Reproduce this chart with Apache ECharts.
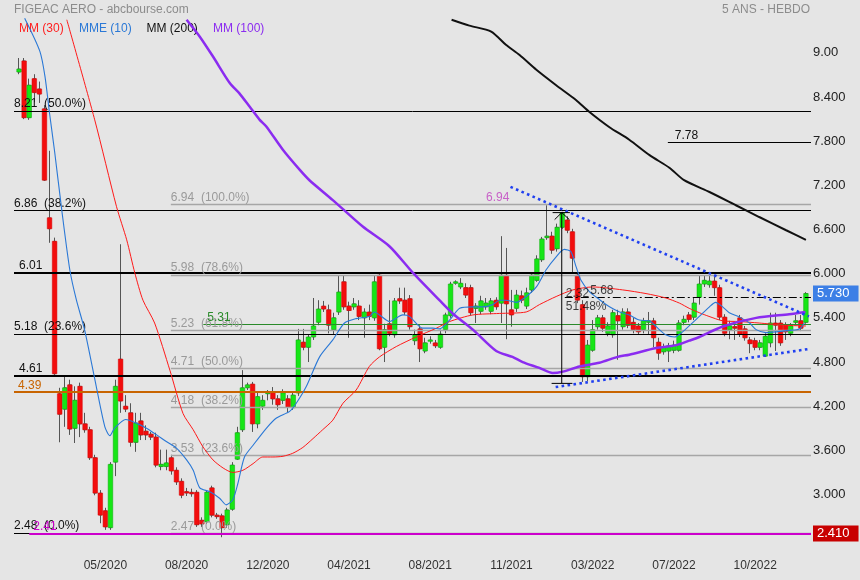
<!DOCTYPE html>
<html><head><meta charset="utf-8">
<script src="https://cdn.jsdelivr.net/npm/echarts@6/dist/echarts.min.js"></script>
<style>html,body{margin:0;padding:0;background:#e5e5e5}#c{width:860px;height:580px}</style>
</head><body><div id="c"></div>
<script>
// ---------- DATA (weekly candles, first week 2020-01-13) ----------
const firstWeek = '2020-01-13';
const opens = [8.74,8.89,8.12,8.65,8.51,8.24,6.76,6.44,4.37,4.16,
 4.49,3.90,4.47,3.96,3.88,3.50,3.02,2.78,2.55,3.44,
 4.84,4.20,4.11,3.71,4.00,3.86,3.82,3.78,3.38,3.38,
 3.50,3.33,3.18,3.04,3.03,3.03,2.65,2.63,3.09,2.72,
 2.71,2.59,2.80,3.48,3.88,4.45,4.50,3.96,4.20,4.37,
 4.39,4.30,4.28,4.30,4.18,4.38,5.07,5.00,5.14,5.34,
 5.56,5.51,5.24,5.48,5.89,5.56,5.55,5.56,5.40,5.48,
 5.40,5.98,5.00,5.32,5.17,5.66,5.64,5.66,5.09,5.25,
 4.95,5.09,5.06,5.00,5.24,5.43,5.87,5.82,5.81,5.81,
 5.53,5.49,5.55,5.49,5.64,5.60,5.98,5.51,5.53,5.70,
 5.56,5.78,5.91,6.19,6.49,6.51,6.34,6.63,6.73,6.57,
 5.98,5.58,4.60,4.96,5.28,5.40,5.19,5.17,5.43,5.28,
 5.48,5.34,5.29,5.24,5.34,5.36,5.07,4.94,4.95,4.96,
 4.96,5.34,5.44,5.41,5.68,5.86,5.85,5.90,5.81,5.41,
 5.24,5.28,5.40,5.25,5.10,5.09,5.00,4.88,5.06,5.33,
 5.33,5.30,5.19,5.34,5.36,5.34];
const closes = [8.78,8.12,8.56,8.46,8.44,7.27,6.61,4.64,4.09,4.45,
 3.89,4.28,3.96,3.88,3.50,3.02,2.72,2.56,3.41,4.47,
 4.27,4.16,3.71,3.97,3.81,3.81,3.78,3.40,3.41,3.43,
 3.32,3.17,2.99,3.02,3.01,2.59,2.60,3.03,2.72,2.70,
 2.55,2.79,3.40,3.84,4.45,4.49,3.96,4.33,4.28,4.39,
 4.30,4.22,4.38,4.19,4.35,5.10,5.00,5.14,5.29,5.52,
 5.52,5.30,5.40,5.75,5.55,5.50,5.59,5.42,5.48,5.42,
 5.89,4.98,5.24,5.19,5.63,5.63,5.48,5.28,5.17,4.98,
 5.06,5.10,5.02,5.18,5.44,5.86,5.89,5.87,5.71,5.47,
 5.56,5.63,5.60,5.63,5.55,5.98,5.59,5.44,5.71,5.64,
 5.74,5.98,6.20,6.47,6.51,6.32,6.63,6.83,6.59,6.21,
 5.64,4.60,5.03,5.24,5.40,5.26,5.29,5.47,5.36,5.48,
 5.30,5.24,5.21,5.36,5.36,5.13,4.92,5.00,5.02,5.03,
 5.33,5.38,5.38,5.60,5.86,5.91,5.90,5.81,5.41,5.19,
 5.29,5.26,5.18,5.13,5.05,5.00,5.06,5.15,5.33,5.30,
 5.06,5.21,5.29,5.36,5.26,5.73];
const lows = [8.71,8.10,8.09,8.33,8.32,7.26,6.42,4.61,3.71,3.92,
 3.81,3.70,3.78,3.84,3.47,2.99,2.61,2.52,2.52,3.25,
 4.11,4.12,3.65,3.58,3.74,3.74,3.74,3.37,3.33,3.33,
 3.27,3.13,2.95,2.98,2.97,2.56,2.56,2.60,2.69,2.67,
 2.42,2.55,2.78,3.47,3.85,4.42,3.85,3.90,4.15,4.28,
 4.22,4.15,4.23,4.12,4.15,4.34,4.96,4.80,5.10,5.30,
 5.48,5.19,5.17,5.44,5.51,5.13,5.51,5.37,5.13,5.37,
 5.36,4.96,4.80,5.15,5.13,5.59,5.44,5.24,5.03,4.80,
 4.92,5.05,4.99,4.98,5.19,5.40,5.85,5.79,5.67,5.43,
 5.33,5.45,5.51,5.45,5.51,5.33,5.11,5.28,5.48,5.60,
 5.52,5.74,5.89,6.16,6.46,6.27,6.30,6.61,6.55,6.02,
 5.60,4.53,4.54,4.94,5.24,5.21,5.15,5.13,4.83,5.24,
 5.26,5.19,5.17,5.19,5.17,5.00,4.83,4.90,4.80,4.92,
 4.94,5.30,5.34,5.37,5.58,5.82,5.81,5.70,5.37,5.15,
 5.11,5.10,5.14,5.09,4.92,4.96,4.96,4.87,5.00,4.95,
 5.02,5.10,5.15,5.30,5.22,5.32];
const highs = [8.93,8.93,8.65,8.71,8.61,8.29,7.67,6.49,4.45,4.60,
 4.56,4.47,4.52,4.11,3.92,3.54,3.06,2.82,3.44,4.56,
 6.40,4.35,4.24,4.11,4.11,3.94,3.85,3.84,3.61,3.61,
 3.54,3.37,3.22,3.09,3.08,3.06,2.69,3.06,3.12,2.75,
 2.74,2.82,3.44,3.92,4.69,4.52,4.53,4.38,4.35,4.42,
 4.46,4.35,4.43,4.35,4.38,5.25,5.25,5.17,5.67,5.64,
 5.63,5.58,5.47,5.98,5.98,5.62,5.67,5.64,5.53,5.58,
 5.98,6.00,5.32,5.64,5.67,5.81,5.81,5.71,5.24,5.30,
 5.13,5.15,5.10,5.24,5.47,5.89,5.91,5.94,5.87,5.85,
 5.60,5.70,5.67,5.67,5.68,6.51,6.35,5.78,5.78,5.77,
 5.81,6.02,6.25,6.50,6.93,6.57,6.68,6.84,6.78,6.61,
 6.02,5.64,5.10,5.37,5.44,5.44,5.34,5.51,5.51,5.53,
 5.53,5.40,5.33,5.40,5.48,5.40,5.13,5.05,5.06,5.09,
 5.37,5.43,5.48,5.67,5.98,5.98,5.98,5.96,5.85,5.45,
 5.36,5.33,5.44,5.29,5.14,5.13,5.10,5.19,5.47,5.47,
 5.37,5.34,5.33,5.44,5.44,5.75];

// moving averages: [week index, value]
const mm30 = [[9.4,9.45],[14.9,8.09],[19.2,6.91],[21.2,6.46],[22.8,6.01],[24.4,5.64],[26.7,5.33],[29.7,4.69],[32.3,4.10],[34.3,3.88],[36.2,3.65],[38.2,3.47],[40.2,3.36],[42.1,3.30],[44.1,3.33],[46.1,3.42],[48.0,3.51],[50.0,3.51],[52.0,3.52],[53.9,3.56],[55.9,3.64],[57.9,3.76],[59.8,3.88],[61.8,4.01],[63.8,4.24],[66.4,4.42],[69.0,4.74],[71.0,4.87],[74.3,5.01],[78.2,5.14],[82.2,5.26],[84.8,5.35],[89.4,5.44],[94.6,5.46],[99.9,5.48],[102.5,5.58],[105.8,5.69],[109.1,5.78],[113.0,5.82],[118.9,5.78],[123.5,5.73],[127.4,5.67],[130.1,5.60],[132.0,5.53],[134.0,5.47],[135.9,5.42],[138.6,5.36],[141.9,5.35],[145.8,5.33],[150.7,5.30],[155.0,5.29]];
const mme10 = [[1.1,9.47],[4.1,9.02],[5.1,8.68],[6.0,8.18],[7.0,7.66],[8.4,6.87],[10.0,6.05],[11.3,5.64],[12.9,5.24],[15.2,4.47],[16.9,3.92],[17.9,3.80],[18.8,3.90],[21.0,4.02],[23.1,3.97],[25.1,3.90],[27.1,3.81],[29.0,3.72],[31.0,3.63],[33.0,3.47],[34.3,3.33],[35.6,3.09],[37.5,3.04],[39.5,2.95],[40.8,2.86],[42.1,2.93],[43.1,3.15],[44.4,3.51],[46.1,3.67],[48.7,3.90],[50.7,4.04],[53.3,4.13],[54.6,4.24],[56.6,4.47],[59.2,4.87],[61.8,5.10],[64.1,5.33],[66.4,5.39],[69.0,5.42],[70.0,5.48],[71.0,5.44],[73.0,5.35],[75.6,5.44],[76.9,5.42],[79.5,5.26],[81.5,5.26],[82.8,5.25],[84.8,5.37],[86.8,5.53],[89.4,5.55],[91.3,5.55],[93.3,5.58],[94.6,5.64],[95.9,5.64],[97.9,5.61],[99.9,5.69],[101.9,5.82],[103.8,6.05],[105.8,6.23],[107.4,6.33],[108.7,6.30],[109.7,6.10],[110.7,5.91],[112.3,5.76],[114.3,5.65],[116.3,5.55],[118.3,5.48],[120.2,5.44],[122.2,5.37],[124.2,5.36],[125.5,5.28],[127.4,5.17],[129.1,5.14],[130.7,5.21],[132.0,5.29],[134.0,5.42],[136.0,5.55],[137.2,5.61],[138.6,5.55],[139.9,5.47],[141.9,5.41],[143.9,5.33],[145.2,5.24],[147.1,5.20],[149.1,5.21],[151.7,5.23],[153.7,5.25],[154.7,5.33]];
const mm100 = [[33.0,9.45],[35.6,9.22],[38.2,8.95],[41.5,8.59],[43.4,8.45],[45.4,8.27],[47.4,8.09],[48.7,8.00],[52.0,7.68],[55.3,7.41],[57.2,7.27],[61.8,7.00],[67.7,6.64],[73.0,6.37],[77.6,6.01],[82.8,5.64],[85.4,5.46],[89.4,5.24],[94.0,4.95],[97.2,4.87],[99.2,4.80],[102.5,4.72],[105.1,4.65],[107.1,4.67],[110.4,4.74],[114.3,4.79],[117.9,4.87],[120.2,4.90],[125.5,4.99],[129.5,5.03],[132.0,5.09],[134.0,5.14],[138.5,5.28],[145.2,5.40],[151.7,5.45],[154.9,5.48]];
const mm200 = [[85.2,9.45],[88.7,9.37],[93.0,9.29],[95.9,9.11],[98.6,8.97],[101.9,8.77],[105.8,8.56],[109.7,8.36],[112.3,8.20],[116.3,7.99],[120.2,7.82],[124.2,7.61],[128.1,7.44],[131.0,7.27],[136.0,7.11],[141.2,6.93],[145.8,6.77],[151.1,6.59],[155.0,6.46]];

// trendlines and measurement (week index, value)
const trendUpper = [[96.8,7.18],[155.6,5.42]];
const trendLower = [[105.7,4.46],[155.8,4.98]];
const measureWeek = 106.9, measureLow = 4.51, measureHigh = 6.83;

// horizontal levels
const fibA = [8.21, 6.86, 5.18, 2.48];
const fibALabels = ['8.21  (50.0%)','6.86  (38.2%)','5.18  (23.6%)','2.48  (0.0%)'];
const fibB = [6.94, 5.98, 5.23, 4.71, 4.18, 3.53, 2.47];
const fibBLabels = ['6.94  (100.0%)','5.98  (78.6%)','5.23  (61.8%)','4.71  (50.0%)','4.18  (38.2%)','3.53  (23.6%)','2.47  (0.0%)'];
const keyLevels = [6.01, 4.61];
const orangeLevel = 4.39;
const greenLevel = 5.31;
const level778 = 7.78;
const level568 = 5.68;
const lowestPrice = 2.41;
const lastPrice = 5.73;
const yMin = 2.4, yMax = 9.6, yStep = 0.6;

// ---------- BUILD ----------
const N = opens.length;               // 156 weeks
const lastSlot = N + 1;               // one empty slot each side
const cats = ['pad-a'];
const t0 = Date.parse(firstWeek + 'T00:00:00Z');
for (let k = 0; k < N; k++) cats.push(new Date(t0 + k * 7 * 86400000).toISOString().slice(0, 10));
cats.push('pad-b');

const candleData = ['-'].concat(opens.map((o, i) => [o, closes[i], lows[i], highs[i]])).concat(['-']);
const bodyData = opens.map((o, i) => [i + 1, o, closes[i]]);
const sh = arr => arr.map(p => [p[0] + 1, p[1]]);

const FONT = 'Liberation Sans, Arial, Helvetica, sans-serif';

function lvl(v, x0, text, color, width, labelColor, dx, type) {
  return [{
    coord: [x0, v],
    lineStyle: { color: color, width: width, type: type || 'solid' },
    label: text ? { show: true, formatter: text, position: 'insideStartTop', color: labelColor, fontSize: 12, fontFamily: FONT, distance: [dx, 1] } : { show: false }
  }, { coord: [lastSlot, v] }];
}

const levelItems = [];
fibB.forEach((v, i) => levelItems.push(lvl(v, 30.9, fibBLabels[i], '#a6a6a6', 1.3, '#9a9a9a', 0)));
fibA.forEach((v, i) => levelItems.push(lvl(v, 0, fibALabels[i], '#000', 1, '#111', 0)));
keyLevels.forEach(v => levelItems.push(lvl(v, 0, v.toFixed(2), '#000', 2.2, '#111', 5)));
levelItems.push(lvl(orangeLevel, 0, orangeLevel.toFixed(2), '#c86400', 2.2, '#c86400', 4));
levelItems.push(lvl(greenLevel, 37.3, greenLevel.toFixed(2), '#2a8a2a', 1, '#2a8a2a', 4));
levelItems.push(lvl(level778, 128.8, level778.toFixed(2), '#000', 1, '#111', 7));
levelItems.push(lvl(level568, 108.5, '', '#000', 1, '#111', 0, [8, 3, 2, 3]));
// the low marker (2.41) is drawn on the 0% line, as in the source picture
levelItems.push(lvl(fibB[6], 3, lowestPrice.toFixed(2), '#cc00cc', 2, '#cc00cc', 4));

function priceBox(v, text, bg) {
  return [{
    coord: [lastSlot - 0.2, v], lineStyle: { color: 'transparent', width: 0 },
    label: { show: true, position: 'end', formatter: text, color: '#fff', backgroundColor: bg, fontSize: 13, fontFamily: FONT, padding: [2, 9, 1, 4], distance: 2 }
  }, { coord: [lastSlot, v] }];
}

const notes = [
  { t: '6.94', x: 91.9, v: 7.03, c: '#c040c0' },
  { t: '2.32', x: 107.6, v: 5.735, c: '#111' },
  { t: '5.68', x: 112.4, v: 5.765, c: '#111' },
  { t: '51.48%', x: 107.6, v: 5.55, c: '#111' }
];

function renderBody(params, api) {
  const x = api.value(0), o = api.value(1), c = api.value(2);
  const a = api.coord([x, o]), b = api.coord([x, c]);
  const up = c >= o;
  const w = 4.6;
  let h = Math.abs(a[1] - b[1]); if (h < 1.4) h = 1.4;
  return { type: 'rect', shape: { x: a[0] - w / 2, y: Math.min(a[1], b[1]), width: w, height: h },
    style: { fill: up ? '#16e616' : '#f20d0d', stroke: up ? '#0aa80a' : '#d40000', lineWidth: 0.5 } };
}

const chart = echarts.init(document.getElementById('c'), null, { renderer: 'canvas' });
chart.setOption({
  animation: false,
  backgroundColor: '#e5e5e5',
  textStyle: { fontFamily: FONT },
  grid: { left: 14, right: 49, top: 8.7, bottom: 41.3, containLabel: false },
  xAxis: [{
    type: 'category', data: cats, boundaryGap: false,
    axisLine: { show: false }, axisTick: { show: false }, splitLine: { show: false },
    axisLabel: { interval: i => i >= 18 && (i - 18) % 16 === 0,
      formatter: v => v.startsWith('pad') ? '' : v.slice(5, 7) + '/' + v.slice(0, 4),
      color: '#333', fontSize: 12, margin: 21, fontFamily: FONT }
  }, { type: 'value', min: 0, max: lastSlot, show: false }],
  yAxis: [{
    type: 'value', position: 'right', min: yMin, max: yMax, interval: yStep, scale: true,
    splitLine: { show: false }, axisLine: { show: false }, axisTick: { show: false },
    axisLabel: { margin: 2, color: '#222', fontSize: 13, fontFamily: FONT, padding: [0, 0, 5, 0],
      formatter: v => (v < yMin + 0.1 || v > yMax - 0.1) ? '' : (Math.abs(v - 9) < 1e-6 ? '9.00' : v.toFixed(3)) }
  }],
  graphic: [
    { type: 'text', left: 14, top: 4, style: { text: 'FIGEAC AERO - abcbourse.com', fill: '#8c8c8c', font: '12px ' + FONT } },
    { type: 'text', right: 50, top: 4, style: { text: '5 ANS - HEBDO', fill: '#8c8c8c', font: '12px ' + FONT } },
    { type: 'text', left: 19, top: 23, style: { text: 'MM (30)', fill: '#ff2020', font: '12px ' + FONT } },
    { type: 'text', left: 79, top: 23, style: { text: 'MME (10)', fill: '#2a78d6', font: '12px ' + FONT } },
    { type: 'text', left: 146.5, top: 23, style: { text: 'MM (200)', fill: '#111', font: '12px ' + FONT } },
    { type: 'text', left: 213, top: 23, style: { text: 'MM (100)', fill: '#8b2cf0', font: '12px ' + FONT } }
  ],
  series: [
    { type: 'candlestick', xAxisIndex: 0, yAxisIndex: 0, data: candleData, barWidth: 3, clip: false, z: 3,
      itemStyle: { color: 'transparent', color0: 'transparent', borderColor: '#555', borderColor0: '#555', borderWidth: 1 } },
    { type: 'custom', xAxisIndex: 1, yAxisIndex: 0, data: bodyData, renderItem: renderBody, z: 4,
      encode: { x: 0, y: [1, 2] }, clip: false },
    { type: 'line', xAxisIndex: 1, data: [], z: 5, silent: true,
      markLine: { silent: true, symbol: ['none', 'none'], animation: false, data: levelItems } },
    { type: 'line', xAxisIndex: 1, data: sh(mm30), symbol: 'none', smooth: 0.25, z: 6, lineStyle: { color: '#ff1a1a', width: 1 } },
    { type: 'line', xAxisIndex: 1, data: sh(mme10), symbol: 'none', smooth: 0.25, z: 6, lineStyle: { color: '#2a78d6', width: 1.1 } },
    { type: 'line', xAxisIndex: 1, data: sh(mm100), symbol: 'none', smooth: 0.25, z: 6, lineStyle: { color: '#8b2cf0', width: 2.5 } },
    { type: 'line', xAxisIndex: 1, data: sh(mm200), symbol: 'none', smooth: 0.25, z: 6, lineStyle: { color: '#111', width: 2 } },
    { type: 'line', xAxisIndex: 1, data: sh(trendUpper), symbol: 'none', z: 7, lineStyle: { color: '#2040f0', width: 2.6, type: [2.6, 3.4] } },
    { type: 'line', xAxisIndex: 1, data: sh(trendLower), symbol: 'none', z: 7, lineStyle: { color: '#2040f0', width: 2.6, type: [2.6, 3.4] } },
    { type: 'line', xAxisIndex: 1, symbol: 'none', z: 7, lineStyle: { color: '#000', width: 1 },
      data: [[measureWeek + 1, measureLow], [measureWeek + 1, measureHigh]] },
    { type: 'line', xAxisIndex: 1, symbol: 'none', z: 7, lineStyle: { color: '#000', width: 1 },
      data: [[measureWeek - 0.8, measureHigh], [measureWeek + 2.6, measureHigh]] },
    { type: 'line', xAxisIndex: 1, symbol: 'none', z: 7, lineStyle: { color: '#000', width: 1 },
      data: [[measureWeek - 1.0, measureLow], [measureWeek + 3.1, measureLow]] },
    { type: 'line', xAxisIndex: 1, symbol: 'none', z: 7, lineStyle: { color: '#000', width: 1 },
      data: [[measureWeek - 0.4, measureHigh - 0.095], [measureWeek + 1, measureHigh], [measureWeek + 2.5, measureHigh - 0.095]] },
    { type: 'scatter', xAxisIndex: 1, symbolSize: 1, z: 8, silent: true, itemStyle: { color: 'transparent' },
      data: notes.map(n => ({ value: [n.x + 1, n.v], label: { show: true, formatter: n.t, position: 'right', distance: 0, color: n.c, fontSize: 12, fontFamily: FONT } })) },
    { type: 'line', xAxisIndex: 1, data: [], z: 9, silent: true,
      markLine: { silent: true, symbol: ['none', 'none'], animation: false,
        data: [priceBox(lastPrice, lastPrice.toFixed(3), '#3c7fe6'), priceBox(fibB[6], lowestPrice.toFixed(3), '#c80000')] } }
  ]
});
</script></body></html>
